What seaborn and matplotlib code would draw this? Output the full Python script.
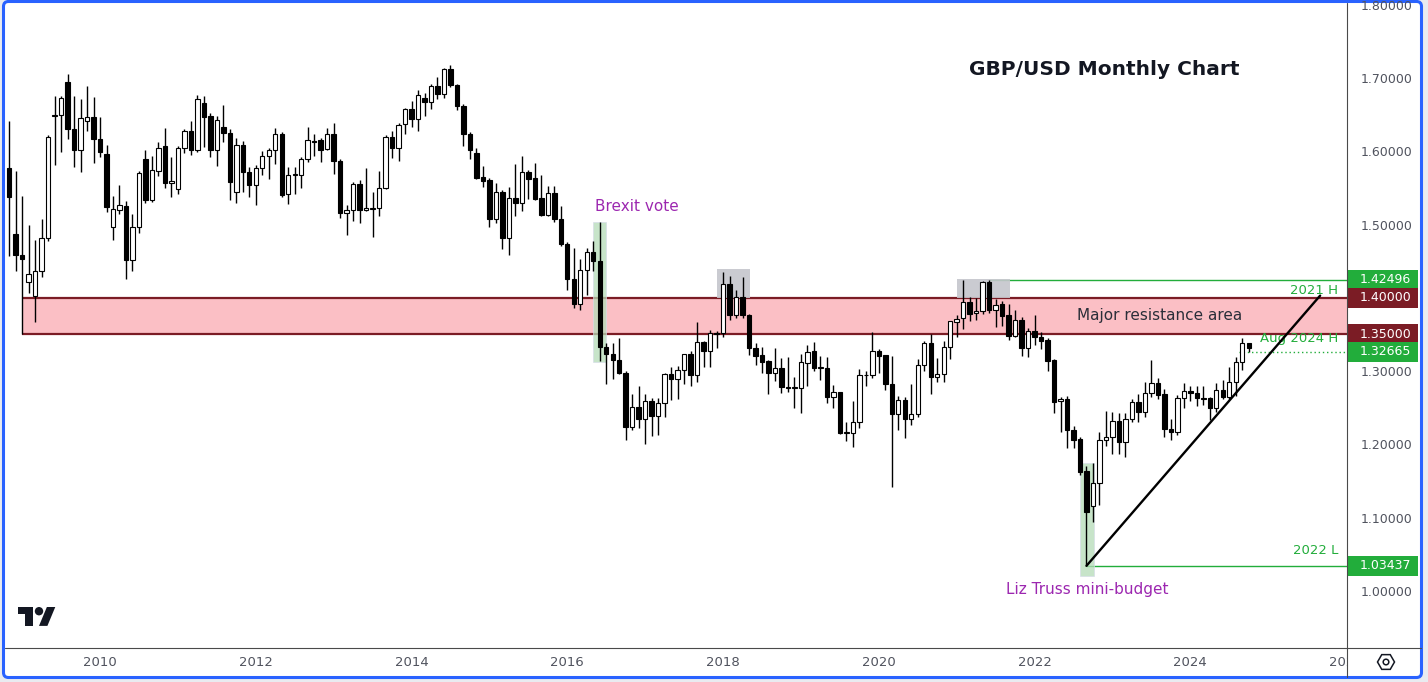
import matplotlib
matplotlib.use("Agg")
import matplotlib.pyplot as plt
import matplotlib.patches as mpatches
import matplotlib.transforms as mtransforms
import seaborn as sns
import numpy as np
import pandas as pd

# monthly GBP/USD candles, Nov 2008 .. Oct 2024
months = pd.period_range("2008-11", "2024-10", freq="M")

opens = [
    1.577, 1.487,
    1.459, 1.421, 1.403, 1.436, 1.481, 1.648, 1.649, 1.694, 1.630, 1.601, 1.641, 1.646,
    1.617, 1.596, 1.497, 1.520, 1.525, 1.451, 1.496, 1.589, 1.534, 1.573, 1.607, 1.557,
    1.549, 1.604, 1.628, 1.602, 1.666, 1.648, 1.602, 1.633, 1.625, 1.544, 1.608, 1.572,
    1.554, 1.577, 1.593, 1.601, 1.624, 1.541, 1.567, 1.567, 1.589, 1.614, 1.615, 1.603,
    1.624, 1.586, 1.516, 1.520, 1.555, 1.520, 1.521, 1.522, 1.550, 1.620, 1.604, 1.637,
    1.657, 1.644, 1.672, 1.667, 1.689, 1.678, 1.712, 1.690, 1.662, 1.623, 1.597, 1.565,
    1.561, 1.507, 1.545, 1.482, 1.536, 1.529, 1.571, 1.563, 1.536, 1.513, 1.543, 1.508,
    1.474, 1.425, 1.392, 1.4375, 1.462, 1.450, 1.333, 1.323, 1.315, 1.298, 1.224, 1.251,
    1.234, 1.259, 1.239, 1.256, 1.296, 1.289, 1.302, 1.323, 1.294, 1.340, 1.328, 1.352,
    1.352, 1.419, 1.377, 1.401, 1.377, 1.331, 1.322, 1.314, 1.297, 1.304, 1.278, 1.277,
    1.277, 1.3115, 1.3275, 1.304, 1.304, 1.264, 1.271, 1.216, 1.216, 1.230, 1.294, 1.294,
    1.327, 1.322, 1.283, 1.241, 1.260, 1.234, 1.241, 1.309, 1.338, 1.292, 1.2955, 1.3325,
    1.3675, 1.372, 1.394, 1.379, 1.382, 1.422, 1.384, 1.391, 1.376, 1.348, 1.3697, 1.331,
    1.3547, 1.346, 1.342, 1.315, 1.259, 1.262, 1.2196, 1.2074, 1.1637, 1.116, 1.147, 1.2064,
    1.2097, 1.2323, 1.203, 1.2342, 1.2574, 1.2446, 1.2706, 1.284, 1.2684, 1.2206, 1.2165, 1.263,
    1.273, 1.2695, 1.263, 1.263, 1.249, 1.2747, 1.2647, 1.2856, 1.3128, 1.338,
]
highs = [
    1.641, 1.573,
    1.539, 1.499, 1.479, 1.508, 1.622, 1.675, 1.675, 1.705, 1.675, 1.671, 1.689, 1.674,
    1.647, 1.608, 1.539, 1.554, 1.532, 1.514, 1.573, 1.602, 1.593, 1.6125, 1.631, 1.592,
    1.607, 1.630, 1.641, 1.677, 1.675, 1.652, 1.648, 1.663, 1.630, 1.6175, 1.614, 1.578,
    1.581, 1.600, 1.605, 1.631, 1.626, 1.579, 1.578, 1.592, 1.633, 1.623, 1.618, 1.631,
    1.639, 1.589, 1.527, 1.558, 1.561, 1.577, 1.544, 1.573, 1.622, 1.628, 1.639, 1.659,
    1.668, 1.683, 1.680, 1.691, 1.701, 1.713, 1.717, 1.691, 1.665, 1.626, 1.604, 1.580,
    1.563, 1.556, 1.547, 1.551, 1.582, 1.594, 1.574, 1.584, 1.567, 1.553, 1.552, 1.525,
    1.476, 1.4675, 1.4525, 1.4675, 1.478, 1.503, 1.338, 1.338, 1.345, 1.300, 1.269, 1.279,
    1.269, 1.263, 1.263, 1.297, 1.305, 1.307, 1.324, 1.327, 1.367, 1.341, 1.356, 1.355,
    1.435, 1.430, 1.411, 1.429, 1.378, 1.338, 1.333, 1.315, 1.331, 1.318, 1.319, 1.292,
    1.323, 1.335, 1.340, 1.320, 1.319, 1.281, 1.272, 1.231, 1.259, 1.303, 1.300, 1.353,
    1.330, 1.322, 1.320, 1.266, 1.265, 1.282, 1.317, 1.341, 1.350, 1.318, 1.341, 1.369,
    1.3765, 1.4241, 1.4015, 1.400, 1.4235, 1.42496, 1.399, 1.395, 1.391, 1.383, 1.374, 1.3584,
    1.3765, 1.354, 1.345, 1.316, 1.265, 1.2665, 1.2255, 1.2105, 1.170, 1.174, 1.2165, 1.2456,
    1.2446, 1.2425, 1.2425, 1.2625, 1.2683, 1.2855, 1.315, 1.290, 1.275, 1.234, 1.2674, 1.2833,
    1.279, 1.279, 1.279, 1.264, 1.2833, 1.2878, 1.305, 1.3188, 1.3447, 1.339,
]
lows = [
    1.457, 1.437,
    1.350, 1.407, 1.367, 1.429, 1.477, 1.581, 1.599, 1.617, 1.579, 1.572, 1.628, 1.584,
    1.592, 1.517, 1.479, 1.515, 1.425, 1.436, 1.489, 1.529, 1.531, 1.566, 1.550, 1.537,
    1.542, 1.598, 1.595, 1.599, 1.606, 1.592, 1.580, 1.613, 1.534, 1.529, 1.544, 1.538,
    1.526, 1.567, 1.5625, 1.583, 1.538, 1.528, 1.541, 1.550, 1.585, 1.594, 1.585, 1.602,
    1.569, 1.509, 1.485, 1.505, 1.502, 1.519, 1.483, 1.512, 1.549, 1.591, 1.587, 1.624,
    1.633, 1.627, 1.648, 1.657, 1.671, 1.672, 1.688, 1.656, 1.6075, 1.589, 1.562, 1.551,
    1.497, 1.502, 1.466, 1.459, 1.511, 1.518, 1.535, 1.533, 1.511, 1.512, 1.504, 1.471,
    1.410, 1.386, 1.384, 1.404, 1.436, 1.314, 1.282, 1.289, 1.296, 1.2056, 1.220, 1.222,
    1.200, 1.211, 1.213, 1.238, 1.2606, 1.2615, 1.283, 1.279, 1.285, 1.305, 1.306, 1.332,
    1.347, 1.370, 1.373, 1.373, 1.322, 1.308, 1.298, 1.269, 1.287, 1.2705, 1.272, 1.249,
    1.243, 1.279, 1.300, 1.288, 1.257, 1.250, 1.214, 1.204, 1.197, 1.223, 1.279, 1.291,
    1.297, 1.274, 1.142, 1.219, 1.209, 1.227, 1.238, 1.300, 1.269, 1.285, 1.285, 1.316,
    1.346, 1.358, 1.369, 1.370, 1.378, 1.379, 1.360, 1.362, 1.343, 1.346, 1.321, 1.319,
    1.336, 1.330, 1.300, 1.2435, 1.2175, 1.1955, 1.1955, 1.158, 1.0344, 1.0937, 1.117, 1.1975,
    1.1865, 1.1865, 1.1823, 1.231, 1.231, 1.237, 1.265, 1.2615, 1.2105, 1.206, 1.213, 1.250,
    1.259, 1.253, 1.254, 1.2335, 1.2446, 1.2615, 1.262, 1.2665, 1.3015, 1.3266,
]
closes = [
    1.537, 1.459,
    1.453, 1.432, 1.437, 1.481, 1.620, 1.650, 1.672, 1.630, 1.601, 1.645, 1.646, 1.617,
    1.599, 1.524, 1.521, 1.527, 1.451, 1.496, 1.570, 1.534, 1.574, 1.605, 1.557, 1.560,
    1.604, 1.628, 1.602, 1.671, 1.647, 1.602, 1.643, 1.625, 1.558, 1.608, 1.571, 1.554,
    1.577, 1.593, 1.602, 1.624, 1.540, 1.567, 1.569, 1.589, 1.615, 1.613, 1.602, 1.624,
    1.586, 1.516, 1.520, 1.555, 1.520, 1.522, 1.522, 1.550, 1.620, 1.604, 1.636, 1.657,
    1.644, 1.676, 1.667, 1.689, 1.678, 1.712, 1.690, 1.661, 1.623, 1.601, 1.564, 1.560,
    1.507, 1.545, 1.482, 1.536, 1.529, 1.571, 1.562, 1.535, 1.513, 1.543, 1.508, 1.474,
    1.425, 1.392, 1.4375, 1.462, 1.450, 1.333, 1.323, 1.315, 1.298, 1.224, 1.251, 1.234,
    1.259, 1.239, 1.256, 1.296, 1.289, 1.302, 1.323, 1.294, 1.340, 1.328, 1.352, 1.351,
    1.419, 1.377, 1.401, 1.377, 1.331, 1.321, 1.313, 1.297, 1.304, 1.278, 1.277, 1.277,
    1.312, 1.3265, 1.304, 1.304, 1.264, 1.271, 1.216, 1.216, 1.230, 1.294, 1.294, 1.327,
    1.321, 1.283, 1.241, 1.260, 1.234, 1.241, 1.308, 1.338, 1.292, 1.2955, 1.333, 1.368,
    1.371, 1.394, 1.378, 1.382, 1.422, 1.384, 1.3905, 1.375, 1.348, 1.3697, 1.331, 1.3547,
    1.346, 1.3415, 1.314, 1.258, 1.262, 1.219, 1.206, 1.162, 1.108, 1.147, 1.2064, 1.2097,
    1.2323, 1.203, 1.2342, 1.2583, 1.2446, 1.2706, 1.284, 1.268, 1.2206, 1.2165, 1.263, 1.273,
    1.2695, 1.263, 1.2625, 1.249, 1.2747, 1.2647, 1.2856, 1.3128, 1.338, 1.332,
]

year_labels = ["2010", "2012", "2014", "2016", "2018", "2020", "2022", "2024", "2026"]
price_ticks = [1.0, 1.1, 1.2, 1.3, 1.4, 1.5, 1.6, 1.7, 1.8]

resistance = (1.35, 1.40)
high_2021 = 1.42496
low_2022 = 1.03437
last_price = 1.32665
trend_dates = ["2022-09", "2025-09"]
trend_prices = [1.0344, 1.403]

GREEN = "#22ad3b"
DARK_RED = "#7b1c25"
PURPLE = "#9c27b0"
INK = "#131722"
AXIS_TXT = "#50535e"

sns.set_theme(style="white")
plt.rcParams["font.family"] = ["DejaVu Sans"]

df = pd.DataFrame({"month": months, "open": opens, "high": highs,
                   "low": lows, "close": closes})
base = pd.Period("2010-01", freq="M")
df["x"] = [(m - base).n for m in df["month"]]


def mx(s):
    return (pd.Period(s, freq="M") - base).n


fig = plt.figure(figsize=(14.28, 6.82), dpi=100, facecolor="#e9ebf0")

# background card with blue frame (pixel coords)
bg = fig.add_axes([0, 0, 1, 1], zorder=0)
bg.set_xlim(0, 1428)
bg.set_ylim(682, 0)
bg.axis("off")
bg.add_patch(mpatches.FancyBboxPatch((3.5, 1.5), 1418, 676,
                                     boxstyle="round,pad=0,rounding_size=5",
                                     fc="white", ec="#2962ff", lw=2.2))

ax = fig.add_axes([5 / 1428, 34 / 682, 1342 / 1428, 644 / 682], zorder=1)
ax.set_facecolor("none")
xmin, xmax = -14.64, 192.14
ax.set_xlim(xmin, xmax)
ax.set_ylim(0.92224, 1.80082)
for s in ax.spines.values():
    s.set_visible(False)
ax.set_xticks([])
ax.yaxis.tick_right()
ax.set_yticks(price_ticks)
ax.set_yticklabels([f"{v:.5f}" for v in price_ticks])
ax.tick_params(axis="y", length=0, pad=10, labelsize=9, labelcolor=AXIS_TXT)

# resistance band
ax.add_patch(mpatches.Rectangle((-12.0, resistance[0]), xmax + 12.0,
                                resistance[1] - resistance[0],
                                fc="#fbbfc5", ec="none", zorder=1))
ax.hlines(resistance, -12.0, xmax, color=DARK_RED, lw=1.6, zorder=2)

# highlight boxes
ax.add_patch(mpatches.Rectangle((mx("2016-06") - 1.0, 1.3124), 2.0, 0.191,
                                fc="#b5dcb8", ec="#d6dce8", lw=0.6, alpha=0.75, zorder=2.5))
ax.add_patch(mpatches.Rectangle((mx("2022-09") - 1.05, 1.0205), 2.15, 0.154,
                                fc="#b5dcb8", ec="#d6dce8", lw=0.6, alpha=0.75, zorder=2.5))
ax.add_patch(mpatches.Rectangle((mx("2018-01") - 0.9, 1.4004), 5.1, 0.039,
                                fc="#c5c6cc", ec="none", alpha=0.9, zorder=2.5))
ax.add_patch(mpatches.Rectangle((mx("2021-02") - 1.0, 1.4004), 8.2, 0.0252,
                                fc="#c5c6cc", ec="none", alpha=0.9, zorder=2.5))

# key levels
ax.hlines(high_2021, mx("2021-06"), xmax, color=GREEN, lw=1.0, zorder=2)
ax.hlines(low_2022, mx("2022-09"), xmax, color=GREEN, lw=1.0, zorder=2)
ax.hlines(last_price, mx("2024-09") - 0.5, xmax, color=GREEN, lw=1.0,
          linestyles=(0, (1, 2)), zorder=2)

# candles
up = df["close"] >= df["open"]
body_lo = np.minimum(df["open"], df["close"])
body_h = np.maximum(np.abs(df["close"] - df["open"]), 0.0012)
ax.vlines(df["x"], df["low"], df["high"], color="black", lw=1.0, zorder=3)
ax.bar(df["x"], body_h, bottom=body_lo, width=0.68,
       color=np.where(up, "white", "black"), edgecolor="black",
       linewidth=0.8, zorder=4)

# trend line
sns.lineplot(x=[mx(d) for d in trend_dates], y=trend_prices, ax=ax,
             color="black", lw=1.7, zorder=6)

# annotations
ax.text(154.7, 1.7108, "GBP/USD Monthly Chart", ha="center", va="center",
        fontsize=14.5, fontweight="bold", color=INK)
ax.text(163.3, 1.3765, "Major resistance area", ha="center", va="center",
        fontsize=11, color="#2a2e39", zorder=5)
ax.text(82.7, 1.5239, "Brexit vote", ha="center", va="center",
        fontsize=11, color=PURPLE)
ax.text(152.1, 1.0014, "Liz Truss mini-budget", ha="center", va="center",
        fontsize=11, color=PURPLE)
ax.text(190.75, 1.4093, "2021 H", ha="right", va="center", fontsize=9.5, color=GREEN, zorder=5)
ax.text(190.75, 1.3438, "Aug 2024 H", ha="right", va="center", fontsize=9.5, color=GREEN, zorder=5)
ax.text(190.75, 1.0546, "2022 L", ha="right", va="center", fontsize=9.5, color=GREEN, zorder=5)

# price axis badges
blend = mtransforms.blended_transform_factory(ax.transAxes, ax.transData)
badges = [(high_2021, GREEN), (resistance[1], DARK_RED), (resistance[0], DARK_RED),
          (last_price, GREEN), (low_2022, GREEN)]
for val, col in badges:
    ax.add_patch(mpatches.Rectangle((1.0007, val - 0.01365), 0.0522, 0.0273,
                                    transform=blend, fc=col, ec="none",
                                    clip_on=False, zorder=7))
    ax.text(1.0287, val, f"{val:.5f}", transform=blend, ha="center", va="center",
            fontsize=9, color="white", clip_on=False, zorder=8)

# time axis
tax = fig.add_axes([5 / 1428, 4 / 682, 1342 / 1428, 30 / 682], zorder=1)
tax.set_xlim(xmin, xmax)
tax.set_ylim(0, 1)
tax.axis("off")
for i, lab in enumerate(year_labels):
    tax.text(i * 24, 0.5, lab, ha="center", va="center", fontsize=9.5,
             color=AXIS_TXT, clip_on=True)

# foreground: separators, logo, settings icon (pixel coords)
fg = fig.add_axes([0, 0, 1, 1], zorder=10)
fg.set_xlim(0, 1428)
fg.set_ylim(682, 0)
fg.axis("off")
fg.set_facecolor("none")
fg.plot([1347, 1347], [2.5, 677], color="#4a4a4a", lw=0.8)
fg.plot([4.5, 1421], [648, 648], color="#4a4a4a", lw=0.8)

k, ox, oy = 1.05, 18, 602.8
T_shape = [(0, 4), (14, 4), (14, 22), (7, 22), (7, 11), (0, 11)]
slash = [(20, 22), (27.5, 4), (35.5, 4), (28, 22)]
fg.add_patch(mpatches.Polygon([(ox + u * k, oy + v * k) for u, v in T_shape], fc=INK, ec="none"))
fg.add_patch(mpatches.Polygon([(ox + u * k, oy + v * k) for u, v in slash], fc=INK, ec="none"))
fg.add_patch(mpatches.Circle((ox + 20 * k, oy + 8 * k), 4 * k, fc=INK, ec="none"))

fg.add_patch(mpatches.RegularPolygon((1386, 662), 6, radius=8.5, orientation=np.pi / 6,
                                     fc="none", ec=INK, lw=1.1))
fg.add_patch(mpatches.Circle((1386, 662), 2.8, fc="none", ec=INK, lw=1.1))

fig.savefig("out.png", dpi=100, facecolor=fig.get_facecolor())
